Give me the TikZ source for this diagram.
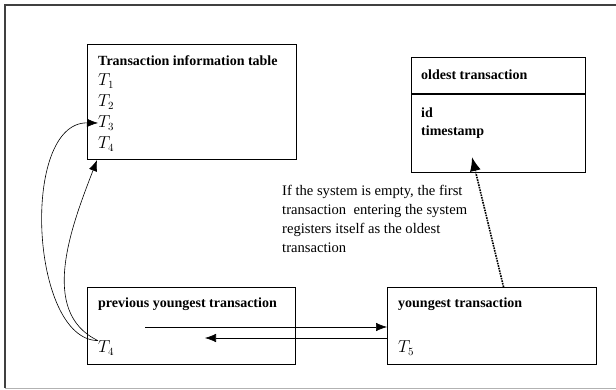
\documentclass[tikz,border=0pt]{standalone}
\usepackage{fontspec}
\setmainfont{Liberation Serif}
\usetikzlibrary{arrows.meta}
\begin{document}
\begin{tikzpicture}[x=1pt,y=-1pt,
  box/.style={draw,line width=1.1pt,inner sep=0pt,anchor=north west},
  txt/.style={anchor=west,inner sep=0pt,font=\fontsize{14.6}{19}\selectfont},
  ttl/.style={txt,font=\fontsize{14}{19}\selectfont\bfseries},
  tee/.style={txt,font=\fontsize{16}{19}\selectfont},
  arr/.style={-{Latex[length=11pt,width=8.5pt]},line width=0.6pt}]
\useasboundingbox (0,0) rectangle (616,390);
% frame
\draw[darkgray,line width=1.3pt](616,5)--(5,5)--(5,388);
\draw[gray!60,line width=1pt](5,388)--(616,388);
% boxes
\node[box,minimum width=209pt,minimum height=115pt] (table) at (87,44) {};
\node[box,minimum width=174pt,minimum height=115pt] (oldest) at (411,57) {};
\node[box,minimum width=208pt,minimum height=77pt] (prev) at (87,287) {};
\node[box,minimum width=209pt,minimum height=77pt] (young) at (387,287) {};
\draw[line width=1.1pt](oldest.west|-0,94)--(oldest.east|-0,94);
% texts
\node[ttl] (tabT) at (98,61) {Transaction information table};
\node[tee] (t1) at (98,81) {$T_1$};
\node[tee] (t2) at (98,102) {$T_2$};
\node[tee] (t3) at (98,123) {$T_3$};
\node[tee] (t4) at (98,144) {$T_4$};
\node[ttl] (oldT) at (421,75) {oldest transaction};
\node[ttl] (id) at (421,113) {id};
\node[ttl] (ts) at (421,132) {timestamp};
\node[ttl] (prevT) at (98,304) {previous youngest transaction};
\node[tee] (p4) at (98,348) {$T_4$};
\node[ttl] (youngT) at (398,304) {youngest transaction};
\node[tee] (y5) at (398,348) {$T_5$};
\node[txt,anchor=north west,align=left] (note) at (282,185)
 {If the system is empty, the first\\transaction\ \ entering the system\\registers itself as the oldest\\transaction};
% connectors
\coordinate (rs) at (145,327);
\coordinate (le) at (205,338);
\coordinate (dt) at (472,157);
\draw[arr](p4.north west)..controls(30,340)and(20,122)..(t3.west);
\draw[arr](p4.north west)..controls(38,312)and(72,225)..([xshift=10pt]table.south west);
\draw[arr](rs)--(young.west|-rs);
\draw[arr](young.west|-le)--(le);
\draw[-{Latex[length=14pt,width=11pt]},line width=1.6pt,densely dotted]([xshift=11.5pt]young.north)--(dt);
\end{tikzpicture}
\end{document}
